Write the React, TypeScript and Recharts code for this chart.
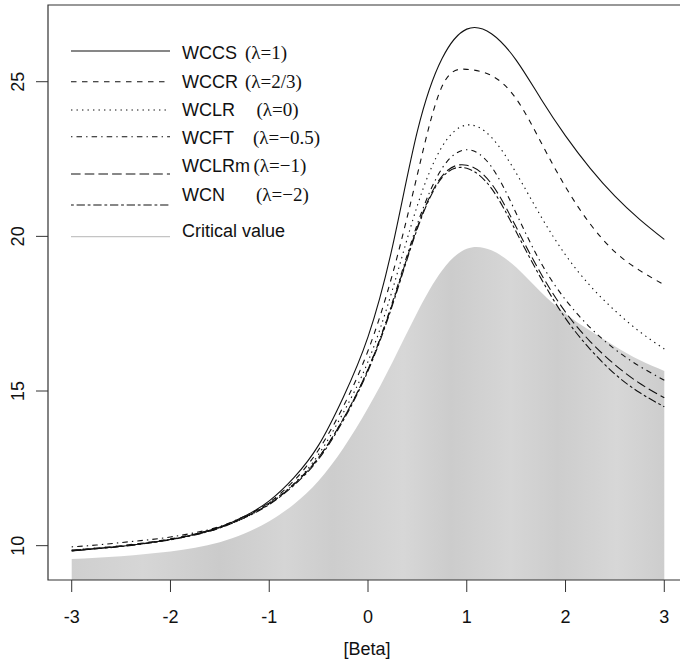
import { Area, ComposedChart, Line, ReferenceArea, XAxis, YAxis } from "recharts";

// beta grid
const betas = [
  -3, -2.75, -2.5, -2.25, -2, -1.75, -1.5, -1.25, -1, -0.75, -0.5, -0.25, 0,
  0.25, 0.5, 0.75, 1, 1.25, 1.5, 1.75, 2, 2.25, 2.5, 2.75, 3,
];

const wccs = [
  9.83, 9.9, 9.98, 10.08, 10.2, 10.37, 10.6, 10.95, 11.45, 12.2, 13.25, 14.8, 16.75,
  19.7, 23.4, 25.75, 26.7, 26.55, 25.7, 24.45, 23.25, 22.2, 21.3, 20.55, 19.9,
];
const wccr = [
  9.85, 9.92, 10.0, 10.1, 10.22, 10.38, 10.6, 10.93, 11.4, 12.1, 13.1, 14.5, 16.3,
  18.8, 22.0, 24.85, 25.4, 25.2, 24.45, 23.05, 21.6, 20.4, 19.5, 18.9, 18.43,
];
const wclr = [
  9.85, 9.92, 9.99, 10.09, 10.2, 10.36, 10.58, 10.9, 11.35, 12.0, 12.95, 14.3, 15.95,
  18.3, 21.0, 22.9, 23.6, 23.2, 22.05, 20.65, 19.4, 18.4, 17.6, 16.92, 16.36,
];
const wcft = [
  9.96, 10.02, 10.1, 10.18, 10.28, 10.42, 10.62, 10.95, 11.38, 12.0, 12.85, 14.1, 15.7,
  17.9, 20.4, 22.2, 22.8, 22.25, 20.75, 19.15, 17.95, 17.05, 16.35, 15.8, 15.35,
];
const wclrm = [
  9.85, 9.91, 9.98, 10.08, 10.2, 10.36, 10.58, 10.92, 11.35, 11.98, 12.85, 14.1, 15.7,
  17.85, 20.3, 21.95, 22.3, 21.7, 20.3, 18.8, 17.55, 16.6, 15.85, 15.25, 14.78,
];
const wcn = [
  9.83, 9.9, 9.97, 10.07, 10.19, 10.35, 10.57, 10.9, 11.33, 11.95, 12.8, 14.05, 15.65,
  17.8, 20.25, 21.9, 22.2, 21.55, 20.15, 18.65, 17.35, 16.35, 15.55, 14.95, 14.49,
];
const critical = [
  9.57, 9.61, 9.66, 9.73, 9.81, 9.93, 10.11, 10.39, 10.79, 11.34, 12.1, 13.15, 14.45,
  15.95, 17.55, 18.9, 19.6, 19.55, 19.0, 18.2, 17.5, 16.95, 16.45, 16.0, 15.65,
];

const xTicks = [-3, -2, -1, 0, 1, 2, 3];
const yTicks = [10, 15, 20, 25];
const xDomain = [-3.24, 3.24];
const yDomain = [8.89, 27.48];

const rows = betas.map((x, i) => ({
  x,
  wccs: wccs[i],
  wccr: wccr[i],
  wclr: wclr[i],
  wcft: wcft[i],
  wclrm: wclrm[i],
  wcn: wcn[i],
  critical: critical[i],
}));

const series = [
  { key: "wccs", name: "WCCS", lambda: "(λ=1)", dash: undefined },
  { key: "wccr", name: "WCCR", lambda: "(λ=2/3)", dash: "5.5 5.5" },
  { key: "wclr", name: "WCLR", lambda: "(λ=0)", dash: "1.4 4.1" },
  { key: "wcft", name: "WCFT", lambda: "(λ=−0.5)", dash: "1.4 4.1 5.5 4.1" },
  { key: "wclrm", name: "WCLRm", lambda: "(λ=−1)", dash: "9.6 4.1" },
  { key: "wcn", name: "WCN", lambda: "(λ=−2)", dash: "2.8 2.8 8.3 2.8" },
];

const SANS = "'Liberation Sans', Arial, Helvetica, sans-serif";
const SERIF = "'Liberation Serif', 'Times New Roman', serif";
const INK = "#111";

// legend layout (text baseline, line y, lambda x)
const legendRows = [
  { textY: 58.8, lineY: 51, lamX: 245 },
  { textY: 88.2, lineY: 81.7, lamX: 245 },
  { textY: 115.8, lineY: 110, lamX: 256.5 },
  { textY: 143.8, lineY: 136.7, lamX: 253 },
  { textY: 172.2, lineY: 174, lamX: 253.5 },
  { textY: 200.5, lineY: 205, lamX: 256 },
];

function XTick(props: any) {
  const { x, payload } = props;
  return (
    <text x={x} y={622.5} textAnchor="middle" fontFamily={SANS} fontSize={18} fill={INK}>
      {payload.value}
    </text>
  );
}

function YTick(props: any) {
  const { y, payload } = props;
  return (
    <text
      x={24}
      y={y}
      transform={`rotate(-90, 24, ${y})`}
      textAnchor="middle"
      fontFamily={SANS}
      fontSize={18}
      fill={INK}
    >
      {payload.value}
    </text>
  );
}

export default function App() {
  return (
    <div
      style={{
        position: "fixed",
        left: 0,
        top: 0,
        width: 680,
        height: 660,
        overflow: "hidden",
        background: "#fff",
      }}
    >
      <ComposedChart
        width={700}
        height={660}
        data={rows}
        margin={{ top: 5, right: 12, bottom: 0, left: 0 }}
      >
        <defs>
          <linearGradient id="greyBands" x1="0" y1="0" x2="1" y2="0">
            <stop offset="0%" stopColor="#cfcfcf" />
            <stop offset="12%" stopColor="#d6d6d6" />
            <stop offset="25%" stopColor="#cbcbcb" />
            <stop offset="36%" stopColor="#d5d5d5" />
            <stop offset="44%" stopColor="#cdcdcd" />
            <stop offset="56%" stopColor="#d7d7d7" />
            <stop offset="64%" stopColor="#cccccc" />
            <stop offset="74%" stopColor="#d6d6d6" />
            <stop offset="82%" stopColor="#cdcdcd" />
            <stop offset="92%" stopColor="#d7d7d7" />
            <stop offset="100%" stopColor="#cdcdcd" />
          </linearGradient>
        </defs>
        <XAxis
          dataKey="x"
          type="number"
          domain={xDomain}
          ticks={xTicks}
          allowDataOverflow
          height={80}
          tickSize={12}
          axisLine={false}
          tickLine={{ stroke: "#333" }}
          tick={<XTick />}
        />
        <YAxis
          type="number"
          domain={yDomain}
          ticks={yTicks}
          allowDataOverflow
          width={48}
          tickSize={12}
          axisLine={false}
          tickLine={{ stroke: "#333" }}
          tick={<YTick />}
        />
        <Area
          dataKey="critical"
          type="natural"
          stroke="none"
          fill="url(#greyBands)"
          fillOpacity={1}
          isAnimationActive={false}
        />
        {series.map((s) => (
          <Line
            key={s.key}
            dataKey={s.key}
            type="natural"
            stroke={INK}
            strokeWidth={1.1}
            strokeDasharray={s.dash}
            dot={false}
            activeDot={false}
            isAnimationActive={false}
          />
        ))}
        <ReferenceArea
          x1={xDomain[0]}
          x2={xDomain[1]}
          y1={yDomain[0]}
          y2={yDomain[1]}
          fill="none"
          stroke="#333"
          strokeWidth={1.2}
        />
      </ComposedChart>
      <svg
        width={680}
        height={660}
        style={{ position: "absolute", left: 0, top: 0, pointerEvents: "none" }}
      >
        {series.map((s, i) => {
          const r = legendRows[i];
          return (
            <g key={s.key}>
              <line
                x1={71}
                x2={170}
                y1={r.lineY}
                y2={r.lineY}
                stroke={INK}
                strokeWidth={1.1}
                strokeDasharray={s.dash}
              />
              <text x={182} y={r.textY} fontFamily={SANS} fontSize={18} fill={INK}>
                {s.name}
              </text>
              <text x={r.lamX} y={r.textY} fontFamily={SERIF} fontSize={19} fill={INK}>
                {s.lambda}
              </text>
            </g>
          );
        })}
        <line x1={71} x2={170} y1={236.7} y2={236.7} stroke="#c4c4c4" strokeWidth={1.2} />
        <text x={182} y={236.5} fontFamily={SANS} fontSize={18} fill={INK}>
          Critical value
        </text>
        <text x={367} y={655} textAnchor="middle" fontFamily={SANS} fontSize={18} fill={INK}>
          [Beta]
        </text>
      </svg>
    </div>
  );
}
